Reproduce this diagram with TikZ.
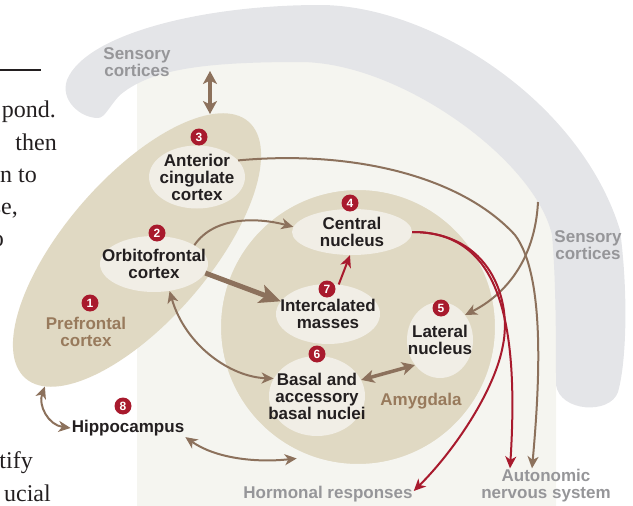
\documentclass[tikz,border=0pt]{standalone}
\usepackage{fontspec}
\setmainfont{Liberation Sans}
\newfontfamily\bodyserif{Liberation Serif}
\usetikzlibrary{arrows.meta,positioning,shapes.geometric}

\definecolor{bandgray}{RGB}{228,229,232}
\definecolor{palebg}{RGB}{245,245,240}
\definecolor{pfcfill}{RGB}{224,217,195}
\definecolor{nucfill}{RGB}{241,238,230}
\definecolor{brownln}{RGB}{140,113,92}
\definecolor{tantext}{RGB}{152,122,92}
\definecolor{greytext}{RGB}{150,150,153}
\definecolor{redln}{RGB}{168,26,45}
\definecolor{ink}{RGB}{35,31,32}

\newcommand{\lblfont}{\fontsize{17}{17}\selectfont\bfseries}
\newcommand{\numfont}{\fontsize{12}{12}\selectfont\bfseries}
\newcommand{\bodyfont}{\bodyserif\fontsize{24}{24}\selectfont}

\begin{document}
\begin{tikzpicture}[x=1pt,y=-1pt,
  >={Stealth[length=12pt,width=11pt,inset=3.5pt]},
  region/.style={ellipse,fill=nucfill,inner xsep=-15pt,inner ysep=-6pt,align=center,font=\lblfont,text=ink},
  lbl/.style={font=\lblfont,text=ink,align=center,inner sep=1pt},
  grey/.style={lbl,text=greytext},
  tanlbl/.style={lbl,text=tantext},
  num/.style={circle,fill=redln,text=white,inner sep=0pt,minimum size=17pt,font=\numfont},
  link/.style={draw=brownln,line width=2pt},
  redlink/.style={draw=redln,line width=2pt},
  body/.style={anchor=base east,font=\bodyfont,text=ink,inner sep=0pt}]
\useasboundingbox (0,0) rectangle (633,506);
\clip (0,0) rectangle (633,506);

\fill[palebg] (137,506) -- (137,60) -- (300,40) -- (450,70) -- (540,140) -- (556,230) -- (556,506) -- cycle;
\fill[bandgray] (98,118) .. controls (80,118) and (60,100) .. (67,80)
  .. controls (85,35) and (200,5) .. (320,5)
  .. controls (430,5) and (580,100) .. (620,230)
  .. controls (628,290) and (627,360) .. (618,392)
  .. controls (610,415) and (560,412) .. (556,385)
  .. controls (556,340) and (556,280) .. (552,235)
  .. controls (535,160) and (400,62) .. (300,62)
  .. controls (200,62) and (150,70) .. (120,95)
  .. controls (110,105) and (105,118) .. (98,118) -- cycle;

\node[ellipse,fill=pfcfill,inner sep=0pt,minimum width=340pt,minimum height=144pt,rotate=49] (pfc) at (137,250) {};
\node[circle,fill=pfcfill,draw=palebg,line width=8pt,minimum size=282pt,inner sep=0pt] (amy) at (358,327) {};

\node[region,minimum width=96pt,minimum height=63pt] (acc) at (197,177) {Anterior\\cingulate\\cortex};
\node[region,minimum width=108pt,minimum height=56pt] (ofc) at (154,264) {Orbitofrontal\\cortex};
\node[region,minimum width=120pt,minimum height=46pt] (cen) at (352,232) {Central\\nucleus};
\node[region,minimum width=104pt,minimum height=60pt] (itc) at (328,314) {Intercalated\\masses};
\node[region,minimum width=66pt,minimum height=76pt] (lat) at (440,340) {Lateral\\nucleus};
\node[region,minimum width=96pt,minimum height=80pt] (bas) at (317,396) {Basal and\\accessory\\basal nuclei};

\node[lbl] (hip) at (128,428) {Hippocampus};
\node[grey] (sens1) at (137,62) {Sensory\\cortices};
\node[grey] (sens2) at (588,245) {Sensory\\cortices};
\node[grey] (horm) at (328,494) {Hormonal responses};
\node[grey] (ans) at (546,486) {Autonomic\\nervous system};
\node[tanlbl] (pfclab) at (86,332) {Prefrontal\\cortex};
\node[tanlbl] (amylab) at (421,401) {Amygdala};

\coordinate (bandedge) at (210,71);
\coordinate (pfctop) at (210,114);
\coordinate (sensin) at (538,202);

\draw[link,<->,line width=3.5pt,>={Stealth[length=13pt,width=14pt,inset=3.5pt]}] (bandedge) -- (pfctop);
\draw[link,->] (acc.22) .. controls (350,150) and (460,175) .. (515,235) .. controls (545,275) and (540,380) .. ([xshift=-14pt]ans.north);
\draw[link,->] (ofc.25) .. controls (215,215) and (260,218) .. (cen.175);
\draw[link,->,line width=5pt,>={Stealth[length=21pt,width=19pt,inset=5pt]}] (ofc.-10) -- (itc.165);
\draw[link,<->] (ofc.-60) .. controls (185,345) and (230,377) .. (bas.158);
\draw[link,<->,line width=3.5pt,>={Stealth[length=13pt,width=13pt,inset=3.5pt]}] (bas.20) -- (lat.225);
\draw[link,->] (sensin) .. controls (535,260) and (505,295) .. (lat.45);
\draw[link,<->] (pfc.187) .. controls (38,405) and (48,425) .. (hip.west);
\draw[link,<->] (hip.south east) .. controls (215,458) and (255,463) .. (amy.245);

\draw[redlink,->] (itc.70) -- (cen.265);
\draw[redlink,->] (cen.east) .. controls (495,232) and (520,310) .. ([xshift=-36pt]ans.north);
\draw[redlink,->] (cen.east) .. controls (490,232) and (512,300) .. (503,345) .. controls (495,390) and (455,450) .. ([yshift=3pt]horm.east);

\node[num] (n1) at (90,303) {1};
\node[num] (n2) at (157,233) {2};
\node[num] (n3) at (199,137) {3};
\node[num] (n4) at (350,203) {4};
\node[num] (n5) at (441,308) {5};
\node[num] (n6) at (317,354) {6};
\node[num] (n7) at (327,289) {7};
\node[num] (n8) at (123,406) {8};

\draw[line width=1.2pt,ink] (0,70) -- (41,70);
\node[body] (b1) at (56,117) {pond.};
\node[body] (b2) at (57,150) {then};
\node[body] (b3) at (37,182) {n to};
\node[body] (b4) at (18,214) {se,};
\node[body] (b5) at (4,246) {o};
\node[body] (b6) at (33,468) {tify};
\node[body] (b7) at (51,501) {ucial};
\end{tikzpicture}
\end{document}
